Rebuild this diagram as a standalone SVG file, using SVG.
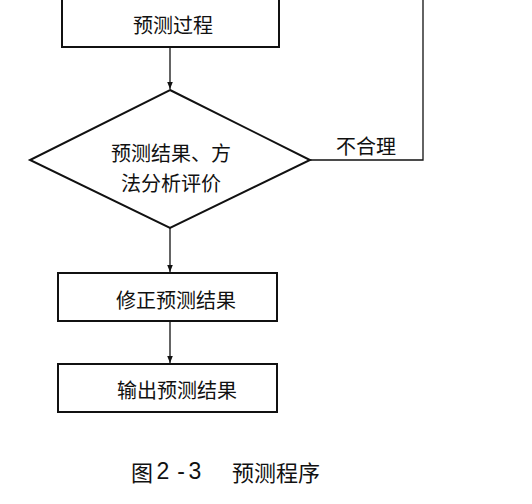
<svg xmlns="http://www.w3.org/2000/svg" width="532" height="504" viewBox="0 0 532 504">
<style>
.box{fill:#fff;stroke:#111;stroke-width:2}
.conn{fill:none;stroke:#111;stroke-width:1.3}
text{font-family:"Noto Sans CJK SC","Noto Sans",sans-serif;fill:#111;text-anchor:middle;dominant-baseline:central}
.t{font-size:20px}
.cap{font-size:22px}
.num{font-family:"Liberation Sans",sans-serif;font-size:23px}
</style>
<defs>
<marker id="ah" viewBox="0 0 10 10" refX="10" refY="5" markerWidth="7" markerHeight="9" orient="auto" markerUnits="userSpaceOnUse">
<path d="M0,1 L10,5 L0,9 Z" fill="#111"/>
</marker>
</defs>
<rect width="532" height="504" fill="#fff"/>
<g id="connectors">
<line class="conn" x1="170" y1="47" x2="170" y2="89" marker-end="url(#ah)"/>
<line class="conn" x1="170" y1="228" x2="170" y2="272" marker-end="url(#ah)"/>
<line class="conn" x1="170" y1="321" x2="170" y2="363" marker-end="url(#ah)"/>
<polyline class="conn" points="310,160 423,160 423,-2"/>
<text class="t" x="366" y="145">不合理</text>
</g>
<g id="n1">
<rect class="box" x="62" y="-2" width="217" height="49"/>
<text class="t" x="173" y="24">预测过程</text>
</g>
<g id="n2">
<polygon class="box" points="170,90 310,160 170,228 30,160"/>
<text class="t" x="171" y="152">预测结果、方</text>
<text class="t" x="171" y="182">法分析评价</text>
</g>
<g id="n3">
<rect class="box" x="58" y="273" width="219" height="48"/>
<text class="t" x="176" y="299">修正预测结果</text>
</g>
<g id="n4">
<rect class="box" x="58" y="364" width="219" height="48"/>
<text class="t" x="177" y="389">输出预测结果</text>
</g>
<g id="caption">
<text class="cap" x="142" y="471">图</text>
<text class="num" x="163" y="471">2</text>
<text class="num" x="181" y="471">-</text>
<text class="num" x="195" y="471">3</text>
<text class="cap" x="276" y="471">预测程序</text>
</g>
</svg>
